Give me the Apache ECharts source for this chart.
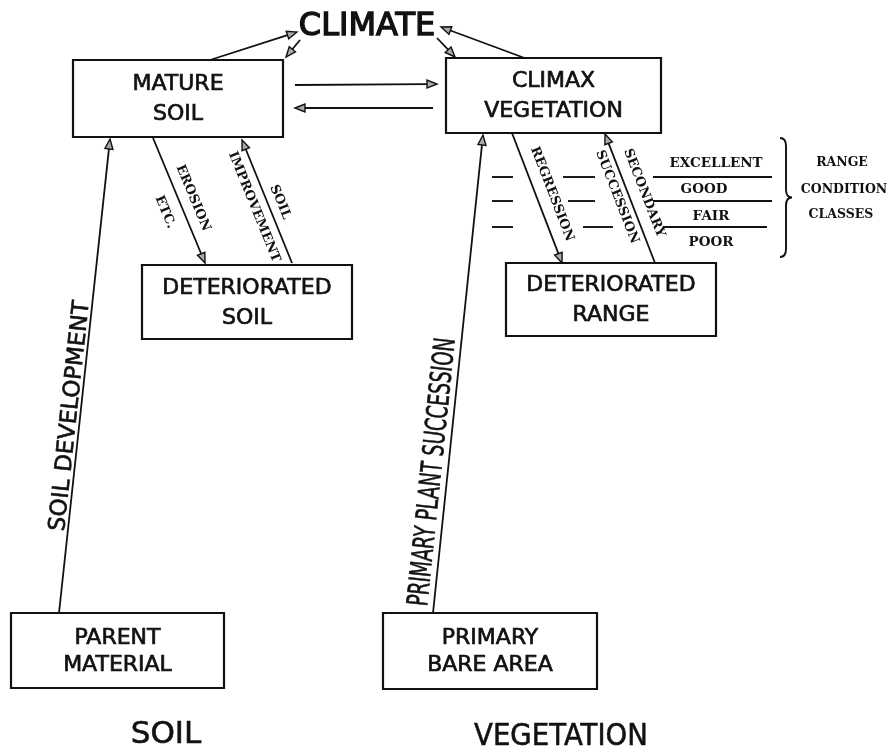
<!DOCTYPE html>
<html><head><meta charset="utf-8">
<script src="https://cdn.jsdelivr.net/npm/echarts@6/dist/echarts.min.js"></script>
<style>html,body{margin:0;padding:0;background:#fff}#c{width:893px;height:752px}</style>
</head><body><div id="c"></div>
<script>
// ---- Diagram data (diagram units) ----
const boxLabels = ['MATURE\nSOIL','CLIMAX\nVEGETATION','DETERIORATED\nSOIL','DETERIORATED\nRANGE','PARENT\nMATERIAL','PRIMARY\nBARE AREA'];
const boxLeft   = [73, 446, 142, 506, 11, 383];
const boxTop    = [60, 58, 265, 263, 613, 613];
const boxRight  = [283, 661, 352, 716, 224, 597];
const boxBottom = [137, 133, 339, 336, 688, 689];

const arrowStart = [[210,60],[300,40],[530,60],[437,38],[295,85],[433,108],[59,613],[153,138],[292,263],[433,613],[512,133],[655,263]];
const arrowEnd   = [[297,32],[286,57],[441,27],[455,57],[437,84],[295,108],[110,139],[205,263],[242,140],[483,135],[562,263],[605,134]];

const headingText   = ['CLIMATE','SOIL','VEGETATION'];
const headingCenter = [[367,27],[166,735],[561,737]];

const pathLabelText   = ['SOIL DEVELOPMENT','PRIMARY PLANT SUCCESSION'];
const pathLabelArrow  = [6, 9];
const pathLabelCenter = [[70.5,416],[433.5,472]];

const noteText   = ['EROSION','ETC.','SOIL','IMPROVEMENT','REGRESSION','SECONDARY','SUCCESSION'];
const noteArrow  = [7, 7, 8, 8, 10, 11, 11];
const noteCenter = [[193,198],[165,212],[280,202],[254,207],[552,194],[644,193],[617,197]];

const classNames  = ['EXCELLENT','GOOD','FAIR','POOR'];
const classCenter = [[716,163],[704,189],[711,216],[711,242]];

const dividerSegments = [[177,492,513],[177,563,595],[177,653,772],
                         [201,492,513],[201,568,595],[201,653,772],
                         [227,492,513],[227,583,613],[227,663,767]];

const braceText   = ['RANGE','CONDITION','CLASSES'];
const braceCenter = [[842,163],[844,190],[841,215]];
const braceSpan   = [[780,138,257,792]]; // x, top, bottom, tip x

// ---- styles ----
const INK = '#111';
const SANS = '"DejaVu Sans", sans-serif';
const SERIF = '"DejaVu Serif", serif';

function readingAngle(i){
  const s = arrowStart[i], e = arrowEnd[i];
  let dx = e[0]-s[0], dy = e[1]-s[1];
  if (dx < 0) { dx = -dx; dy = -dy; }
  return -Math.atan2(dy, dx);
}

const chart = echarts.init(document.getElementById('c'), null, {renderer:'canvas'});
const option = {
  animation: false,
  backgroundColor: '#fff',
  grid: {left:0, right:0, top:0, bottom:0},
  xAxis: {type:'value', min:0, max:893, show:false},
  yAxis: {type:'value', min:0, max:752, inverse:true, show:false},
  series: [
    { // dividers
      type:'custom', data: dividerSegments,
      renderItem(params, api){
        const a = api.coord([api.value(1), api.value(0)]);
        const b = api.coord([api.value(2), api.value(0)]);
        return {type:'line', shape:{x1:a[0],y1:a[1],x2:b[0],y2:b[1]}, style:{stroke:INK, lineWidth:1.9}};
      }
    },
    { // arrows
      type:'custom', data: arrowStart.map((s,i)=>[s[0],s[1],arrowEnd[i][0],arrowEnd[i][1]]),
      renderItem(params, api){
        const a = api.coord([api.value(0), api.value(1)]);
        const b = api.coord([api.value(2), api.value(3)]);
        const dx = b[0]-a[0], dy = b[1]-a[1], L = Math.hypot(dx,dy);
        const ux = dx/L, uy = dy/L, nx = -uy, ny = ux;
        const hl = 10, hw = 4;
        const bx = b[0]-ux*hl, by = b[1]-uy*hl;
        return {type:'group', children:[
          {type:'line', shape:{x1:a[0],y1:a[1],x2:bx,y2:by}, style:{stroke:INK, lineWidth:1.8}},
          {type:'polygon', shape:{points:[[b[0],b[1]],[bx+nx*hw,by+ny*hw],[bx-nx*hw,by-ny*hw]]},
           style:{fill:'#aaa', stroke:INK, lineWidth:1.4}}
        ]};
      }
    },
    { // boxes
      type:'custom', data: boxLabels.map((l,i)=>[boxLeft[i],boxTop[i],boxRight[i],boxBottom[i]]),
      renderItem(params, api){
        const i = params.dataIndex;
        const p1 = api.coord([api.value(0), api.value(1)]);
        const p2 = api.coord([api.value(2), api.value(3)]);
        const big = i >= 4;
        return {type:'group', children:[
          {type:'rect', shape:{x:p1[0], y:p1[1], width:p2[0]-p1[0], height:p2[1]-p1[1]},
           style:{fill:'#fff', stroke:INK, lineWidth:2.2}},
          {type:'text', x:(p1[0]+p2[0])/2, y:(p1[1]+p2[1])/2 + 1,
           style:{text: boxLabels[i], x:0, y:0, fill:INK, fontFamily:SANS, fontSize: 22,
                  lineHeight: big?27:30, align:'center', verticalAlign:'middle', stroke:INK, lineWidth:0.7}}
        ]};
      }
    },
    { // headings
      type:'custom', data: headingCenter,
      renderItem(params, api){
        const i = params.dataIndex;
        const p = api.coord([api.value(0), api.value(1)]);
        const sizes = [32, 31, 31], scales = [1, 1, 0.89];
        return {type:'text', x:p[0], y:p[1], scaleX: scales[i],
          style:{text: headingText[i], x:0, y:0, fill:INK, fontFamily:SANS, fontSize: sizes[i],
                 align:'center', verticalAlign:'middle', stroke:INK, lineWidth: i===0?1.4:0.6}};
      }
    },
    { // labels along long arrows
      type:'custom', data: pathLabelCenter,
      renderItem(params, api){
        const i = params.dataIndex;
        const p = api.coord([api.value(0), api.value(1)]);
        const sizes = [23, 29], scales = [1, 0.63];
        return {type:'text', x:p[0], y:p[1], rotation: readingAngle(pathLabelArrow[i]), scaleX: scales[i],
          style:{text: pathLabelText[i], x:0, y:0, fill:INK, fontFamily:SANS, fontSize: sizes[i],
                 align:'center', verticalAlign:'middle', stroke:INK, lineWidth:0.6}};
      }
    },
    { // serif notes along short arrows
      type:'custom', data: noteCenter,
      renderItem(params, api){
        const i = params.dataIndex;
        const p = api.coord([api.value(0), api.value(1)]);
        return {type:'text', x:p[0], y:p[1], rotation: readingAngle(noteArrow[i]),
          style:{text: noteText[i], x:0, y:0, fill:INK, fontFamily:SERIF, fontWeight:'bold', fontSize:13,
                 align:'center', verticalAlign:'middle'}};
      }
    },
    { // condition class names
      type:'custom', data: classCenter,
      renderItem(params, api){
        const p = api.coord([api.value(0), api.value(1)]);
        return {type:'text', x:p[0], y:p[1],
          style:{text: classNames[params.dataIndex], x:0, y:0, fill:INK, fontFamily:SERIF, fontWeight:'bold', fontSize:13.5,
                 align:'center', verticalAlign:'middle'}};
      }
    },
    { // brace labels
      type:'custom', data: braceCenter,
      renderItem(params, api){
        const p = api.coord([api.value(0), api.value(1)]);
        return {type:'text', x:p[0], y:p[1],
          style:{text: braceText[params.dataIndex], x:0, y:0, fill:INK, fontFamily:SERIF, fontWeight:'bold', fontSize:12.5,
                 align:'center', verticalAlign:'middle'}};
      }
    },
    { // brace
      type:'custom', data: braceSpan,
      renderItem(params, api){
        const top = api.coord([api.value(0), api.value(1)]);
        const bot = api.coord([api.value(0), api.value(2)]);
        const tip = api.coord([api.value(3), (api.value(1)+api.value(2))/2]);
        const x0 = top[0], x1 = x0 + 6, mid = tip[1];
        const d = `M${x0},${top[1]} Q${x1},${top[1]} ${x1},${top[1]+8} L${x1},${mid-8} Q${x1},${mid} ${tip[0]},${mid} `+
                  `Q${x1},${mid} ${x1},${mid+8} L${x1},${bot[1]-8} Q${x1},${bot[1]} ${x0},${bot[1]}`;
        return {type:'path', shape:{pathData:d}, style:{fill:null, stroke:INK, lineWidth:1.9}};
      }
    }
  ]
};
chart.setOption(option);
</script></body></html>
